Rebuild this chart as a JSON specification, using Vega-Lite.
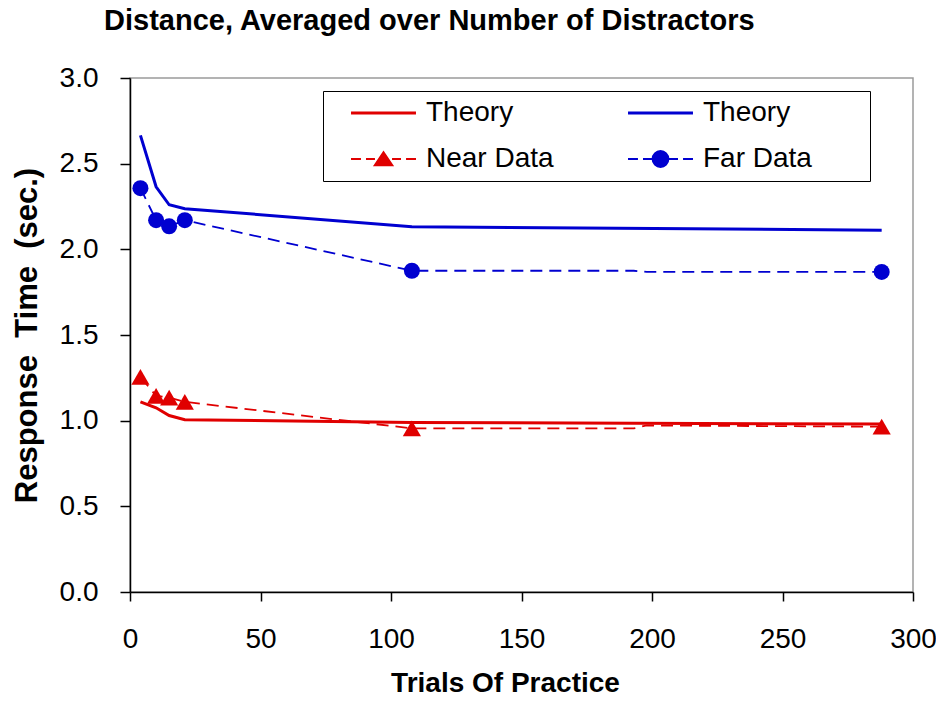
{
  "$schema": "https://vega.github.io/schema/vega-lite/v6.json",
  "width": 783,
  "height": 514,
  "autosize": {"type": "none"},
  "padding": {"left": 130, "top": 78, "right": 23, "bottom": 110},
  "background": "white",
  "title": {
    "text": "Distance, Averaged over Number of Distractors",
    "anchor": "start",
    "frame": "group",
    "dx": -26,
    "offset": 28,
    "font": "Liberation Sans",
    "fontSize": 29,
    "fontWeight": "bold",
    "color": "black"
  },
  "config": {
    "view": {"stroke": "#9a9a9a", "strokeWidth": 1.5},
    "axis": {
      "grid": false,
      "domainColor": "black",
      "domainWidth": 1.5,
      "tickColor": "black",
      "tickWidth": 1.5,
      "labelFont": "Liberation Sans",
      "labelFontSize": 28,
      "labelColor": "black",
      "labelFlush": false,
      "labelOverlap": false,
      "titleFont": "Liberation Sans",
      "titleFontWeight": "bold",
      "titleColor": "black"
    }
  },
  "data": {
    "values": [
      {"series": "Near Theory", "x": 4, "y": 1.11, "marker": false},
      {"series": "Near Theory", "x": 10, "y": 1.075, "marker": false},
      {"series": "Near Theory", "x": 15, "y": 1.03, "marker": false},
      {"series": "Near Theory", "x": 21, "y": 1.005, "marker": false},
      {"series": "Near Theory", "x": 108, "y": 0.99, "marker": false},
      {"series": "Near Theory", "x": 288, "y": 0.98, "marker": false},
      {"series": "Far Theory", "x": 4, "y": 2.665, "marker": false},
      {"series": "Far Theory", "x": 10, "y": 2.365, "marker": false},
      {"series": "Far Theory", "x": 15, "y": 2.26, "marker": false},
      {"series": "Far Theory", "x": 21, "y": 2.237, "marker": false},
      {"series": "Far Theory", "x": 108, "y": 2.132, "marker": false},
      {"series": "Far Theory", "x": 288, "y": 2.112, "marker": false},
      {"series": "Near Data", "x": 4, "y": 1.255, "marker": true},
      {"series": "Near Data", "x": 10, "y": 1.145, "marker": true},
      {"series": "Near Data", "x": 15, "y": 1.135, "marker": true},
      {"series": "Near Data", "x": 21, "y": 1.11, "marker": true},
      {"series": "Near Data", "x": 108, "y": 0.955, "marker": true},
      {"series": "Near Data", "x": 193, "y": 0.955, "marker": false},
      {"series": "Near Data", "x": 198, "y": 0.972, "marker": false},
      {"series": "Near Data", "x": 288, "y": 0.965, "marker": true},
      {"series": "Far Data", "x": 4, "y": 2.357, "marker": true},
      {"series": "Far Data", "x": 10, "y": 2.17, "marker": true},
      {"series": "Far Data", "x": 15, "y": 2.134, "marker": true},
      {"series": "Far Data", "x": 21, "y": 2.17, "marker": true},
      {"series": "Far Data", "x": 108, "y": 1.875, "marker": true},
      {"series": "Far Data", "x": 193, "y": 1.875, "marker": false},
      {"series": "Far Data", "x": 198, "y": 1.868, "marker": false},
      {"series": "Far Data", "x": 288, "y": 1.868, "marker": true}
    ]
  },
  "encoding": {
    "x": {
      "field": "x",
      "type": "quantitative",
      "scale": {"domain": [0, 300], "nice": false},
      "axis": {
        "title": "Trials Of Practice",
        "values": [0, 50, 100, 150, 200, 250, 300],
        "tickSize": 9,
        "labelPadding": 24,
        "titleFontSize": 28,
        "titlePadding": 16,
        "titleX": 375
      }
    },
    "y": {
      "field": "y",
      "type": "quantitative",
      "scale": {"domain": [0, 3], "nice": false},
      "axis": {
        "title": "Response\u00a0 Time\u00a0 (sec.)",
        "values": [0, 0.5, 1, 1.5, 2, 2.5, 3],
        "format": ".1f",
        "tickSize": 10,
        "labelPadding": 22,
        "titleFontSize": 31,
        "titlePadding": 16
      }
    }
  },
  "layer": [
    {
      "transform": [{"filter": "indexof(datum.series, 'Theory') >= 0"}],
      "mark": {"type": "line", "strokeWidth": 3},
      "encoding": {
        "color": {
          "field": "series",
          "type": "nominal",
          "scale": {"domain": ["Near Data", "Far Data", "Near Theory", "Far Theory"], "range": ["#e00000", "#0000d0", "#e00000", "#0000d0"]},
          "legend": null
        }
      }
    },
    {
      "transform": [{"filter": "indexof(datum.series, 'Data') >= 0"}],
      "mark": {"type": "line", "strokeWidth": 1.8, "strokeDash": [12, 7]},
      "encoding": {
        "color": {
          "field": "series",
          "type": "nominal",
          "scale": {"domain": ["Near Data", "Far Data", "Near Theory", "Far Theory"], "range": ["#e00000", "#0000d0", "#e00000", "#0000d0"]},
          "legend": null
        }
      }
    },
    {
      "transform": [{"filter": "datum.series == 'Near Data' && datum.marker"}],
      "mark": {"type": "point", "shape": "triangle-up", "filled": true, "size": 330, "color": "#e00000", "opacity": 1}
    },
    {
      "transform": [{"filter": "datum.series == 'Far Data' && datum.marker"}],
      "mark": {"type": "point", "shape": "circle", "filled": true, "size": 256, "color": "#0000d0", "opacity": 1}
    },
    {
      "transform": [{"filter": "datum.marker && datum.x > 1000"}],
      "mark": {
        "type": "point",
        "filled": true,
        "fill": {"expr": "indexof('' + datum.value, 'Data') >= 0 ? (indexof('' + datum.value, 'Near') >= 0 ? '#e00000' : '#0000d0') : 'transparent'"},
        "stroke": {"expr": "indexof('' + datum.value, 'Near') >= 0 ? '#e00000' : '#0000d0'"},
        "opacity": 1
      },
      "encoding": {
        "shape": {
          "field": "series",
          "type": "nominal",
          "scale": {
            "domain": ["Near Theory", "Near Data", "Far Theory", "Far Data"],
            "range": [
              "M0.43,0H5.07",
              "M0.43,0H1.14M1.5,0H2.14M3.36,0H4M4.36,0H5.07M2.11,0.46L2.75,-0.5L3.39,0.46Z",
              "M0.43,0H5.07M16.7,0",
              "M0.43,0H1.14M1.5,0H2.14M3.36,0H4M4.36,0H5.07M3.32,0A0.57,0.57,0,1,1,2.18,0A0.57,0.57,0,1,1,3.32,0ZM16.7,0"
            ]
          },
          "legend": {
            "orient": "none",
            "legendX": 193,
            "legendY": 13,
            "columns": 2,
            "title": null,
            "labelFont": "Liberation Sans",
            "labelFontSize": 28,
            "labelColor": "black",
            "labelOffset": 67,
            "labelLimit": 400,
            "labelExpr": "indexof(datum.value, 'Theory') >= 0 ? 'Theory' : datum.label",
            "symbolSize": 784,
            "symbolOffset": 0,
            "symbolOpacity": 1,
            "symbolStrokeWidth": {"expr": "indexof('' + datum.value, 'Theory') >= 0 ? 3 : 1.8"},
            "strokeColor": "black",
            "fillColor": "white",
            "padding": 8,
            "rowPadding": 18,
            "columnPadding": 54
          }
        }
      }
    }
  ]
}
